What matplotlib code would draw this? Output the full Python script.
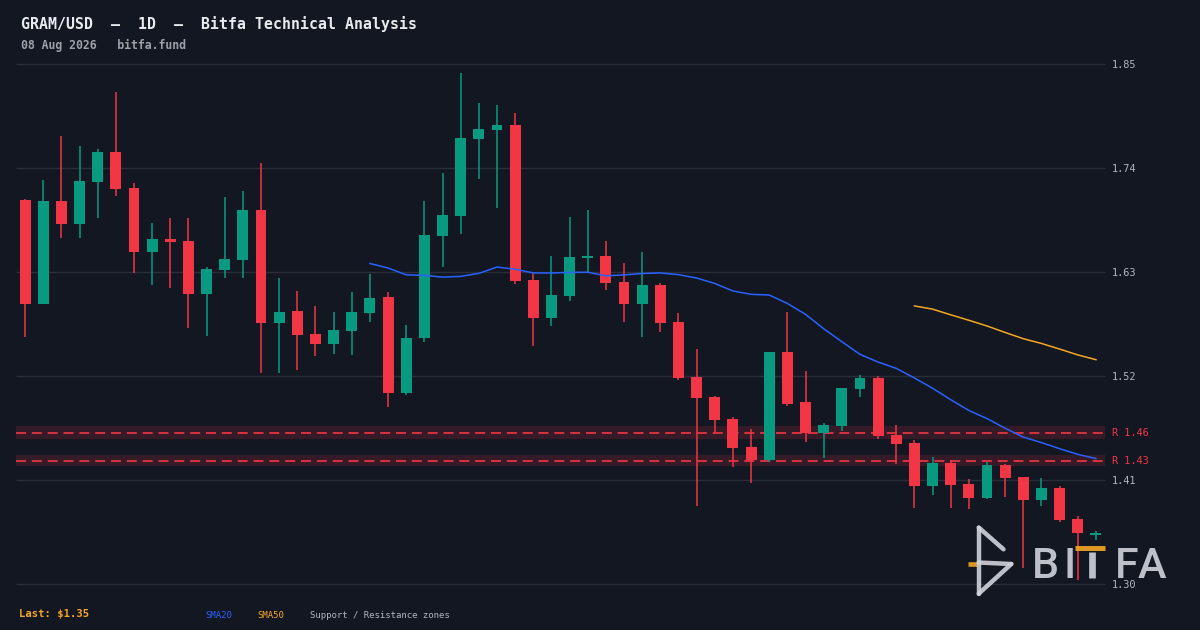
import numpy as np
import pandas as pd
import matplotlib
matplotlib.use("Agg")
import matplotlib.pyplot as plt
from matplotlib.lines import Line2D

# ---------------- data ----------------
opens = [1.706, 1.597, 1.705, 1.681, 1.726, 1.757, 1.719, 1.652, 1.665, 1.663,
         1.607, 1.632, 1.643, 1.696, 1.576, 1.589, 1.565, 1.554, 1.568, 1.587,
         1.604, 1.502, 1.5605, 1.668, 1.690, 1.771, 1.781, 1.7855, 1.6215, 1.582,
         1.605, 1.645, 1.647, 1.620, 1.597, 1.617, 1.577, 1.519, 1.498, 1.4745,
         1.445, 1.431, 1.546, 1.4925, 1.460, 1.467, 1.507, 1.518, 1.4576, 1.449,
         1.404, 1.428, 1.406, 1.391, 1.426, 1.413, 1.389, 1.4015, 1.369, 1.3525]
highs = [1.708, 1.728, 1.774, 1.764, 1.760, 1.821, 1.724, 1.682, 1.687, 1.687,
         1.636, 1.710, 1.716, 1.746, 1.624, 1.610, 1.594, 1.588, 1.609, 1.628,
         1.609, 1.574, 1.705, 1.735, 1.8405, 1.809, 1.807, 1.799, 1.630, 1.647,
         1.688, 1.696, 1.663, 1.640, 1.651, 1.619, 1.587, 1.549, 1.499, 1.477,
         1.464, 1.546, 1.588, 1.526, 1.471, 1.508, 1.521, 1.520, 1.469, 1.453,
         1.435, 1.431, 1.411, 1.429, 1.427, 1.414, 1.412, 1.404, 1.372, 1.356]
lows = [1.562, 1.596, 1.666, 1.666, 1.687, 1.711, 1.629, 1.617, 1.613, 1.571,
        1.563, 1.624, 1.624, 1.524, 1.524, 1.527, 1.542, 1.544, 1.543, 1.577,
        1.488, 1.500, 1.556, 1.636, 1.6705, 1.729, 1.698, 1.618, 1.552, 1.573,
        1.600, 1.630, 1.611, 1.577, 1.562, 1.567, 1.516, 1.3825, 1.461, 1.424,
        1.407, 1.429, 1.489, 1.451, 1.434, 1.462, 1.498, 1.454, 1.427, 1.381,
        1.394, 1.381, 1.380, 1.390, 1.392, 1.317, 1.3825, 1.3656, 1.305, 1.3465]
closes = [1.597, 1.705, 1.681, 1.727, 1.757, 1.718, 1.652, 1.665, 1.662, 1.607,
          1.633, 1.644, 1.696, 1.576, 1.588, 1.564, 1.554, 1.569, 1.588, 1.603,
          1.502, 1.5605, 1.669, 1.691, 1.772, 1.782, 1.7855, 1.6205, 1.582, 1.606,
          1.646, 1.647, 1.619, 1.597, 1.617, 1.576, 1.518, 1.497, 1.4735, 1.444,
          1.431, 1.546, 1.491, 1.460, 1.468, 1.508, 1.518, 1.4565, 1.448, 1.404,
          1.428, 1.405, 1.391, 1.426, 1.412, 1.389, 1.4015, 1.368, 1.354, 1.3545]

resistance_levels = [1.4603, 1.4306]
resistance_zones = [(1.4534, 1.4670), (1.4248, 1.4364)]
resistance_labels = ["R 1.46", "R 1.43"]

y_ticks = [1.30, 1.41, 1.52, 1.63, 1.74, 1.85]
y_tick_labels = ["1.30", "1.41", "1.52", "1.63", "1.74", "1.85"]

title_text = "GRAM/USD  \u2013  1D  \u2013  Bitfa Technical Analysis"
subtitle_text = "08 Aug 2026   bitfa.fund"
last_text = "Last: $1.35"

# ---------------- style ----------------
BG = "#131722"
GRID = "#2a2e39"
UP = "#089981"
DOWN = "#f23645"
BLUE = "#2962ff"
ORANGE = "#f5a623"
MONO = ["DejaVu Sans Mono"]

W, H = 1200, 630
fig = plt.figure(figsize=(12, 6.3), dpi=100, facecolor=BG)


def px(x, y):
    return x / W, 1 - y / H


ax_l, ax_r, ax_t, ax_b = 16, 1105, 64.3, 584.3
ax = fig.add_axes([ax_l / W, 1 - ax_b / H, (ax_r - ax_l) / W, (ax_b - ax_t) / H])
ax.set_facecolor(BG)
for s in ax.spines.values():
    s.set_visible(False)

n = len(closes)
x = np.arange(n)
o = np.array(opens); c = np.array(closes)
hi = np.array(highs); lo = np.array(lows)

ax.set_xlim(-0.5, n - 0.5)
ax.set_ylim(y_ticks[0], y_ticks[-1])

# grid
ax.hlines(y_ticks, -0.5, n - 0.5, color=GRID, lw=1, zorder=0, clip_on=False)

# zones
for (z0, z1), lvl in zip(resistance_zones, resistance_levels):
    ax.axhspan(z0, z1, color=DOWN, alpha=0.15, lw=0, zorder=1)
    ax.axhline(lvl, color=DOWN, lw=1.2, ls=(0, (6, 3.5)), zorder=2)

for lbl, lvl in zip(resistance_labels, resistance_levels):
    ax.annotate(lbl, xy=(1, lvl), xycoords=("axes fraction", "data"),
                xytext=(4.8, 0), textcoords="offset points", va="center",
                ha="left", color=DOWN, fontsize=7.4, family=MONO)

# candles
cols = np.where(c >= o, UP, DOWN)
ax.vlines(x, lo, hi, colors=cols, lw=1.1, zorder=3)
ax.bar(x, c - o, bottom=o, width=0.6, color=cols, lw=0, zorder=4)

# SMAs
s = pd.Series(closes)
sma20 = s.rolling(20).mean()
sma50 = s.rolling(50).mean()
ax.plot(x, sma20, color=BLUE, lw=1.1, zorder=5)
ax.plot(x, sma50, color=ORANGE, lw=1.1, zorder=5)

# y ticks
ax.set_xticks([])
ax.yaxis.tick_right()
ax.set_yticks(y_ticks)
ax.set_yticklabels(y_tick_labels)
ax.tick_params(axis="y", length=0, pad=4.8, labelcolor="#b2b5be", labelsize=7.4)
for t in ax.get_yticklabels():
    t.set_family(MONO)

# header texts
fig.text(*px(21, 29.3), title_text, color="#e8eaed", fontsize=10.7,
         fontweight="bold", family=MONO, va="baseline", ha="left")
fig.text(*px(21, 49), subtitle_text, color="#9ea1a8", fontsize=8.3,
         fontweight="bold", family=MONO, va="baseline", ha="left")

# footer
fig.text(*px(18.7, 617.3), last_text, color=ORANGE, fontsize=7.6,
         fontweight="bold", family=MONO, va="baseline", ha="left")
fig.text(*px(205, 618.5), "SMA20", color=BLUE, fontsize=6.5, family=MONO,
         va="baseline", ha="left")
fig.text(*px(257.7, 618.5), "SMA50", color=ORANGE, fontsize=6.5, family=MONO,
         va="baseline", ha="left")
fig.text(*px(309.7, 618.5), "Support / Resistance zones", color="#b2b5be",
         fontsize=6.5, family=MONO, va="baseline", ha="left")

# watermark logo
LOGO = "#d1d4dc"


def seg(p0, p1, color=LOGO, lw=3.2, cap="round"):
    (x0, y0), (x1, y1) = px(*p0), px(*p1)
    fig.add_artist(Line2D([x0, x1], [y0, y1], transform=fig.transFigure,
                          color=color, lw=lw, solid_capstyle=cap,
                          alpha=0.9, zorder=20))


seg((968, 563.7), (977, 563.7), color=ORANGE, lw=3.3, cap="butt")
seg((978.7, 527.5), (978.7, 593.7))
seg((978.7, 527.5), (1003.5, 549.3))
seg((978.7, 562.5), (1011.3, 564.0))
seg((1011.3, 564.0), (978.7, 593.7))

for ch, cx in [("B", 1045), ("I", 1070), ("F", 1127), ("A", 1152)]:
    fig.text(*px(cx, 578.3), ch, color=LOGO, alpha=0.9, fontsize=31,
             family=["Roboto", "DejaVu Sans"], fontweight="medium",
             va="baseline", ha="center", zorder=20)
seg((1091.5, 552), (1091.5, 578.3), lw=4.8, cap="butt")
seg((1075, 547.5), (1105, 547.5), color=ORANGE, lw=3.6, cap="butt")

fig.savefig("out.png", dpi=100, facecolor=BG)
